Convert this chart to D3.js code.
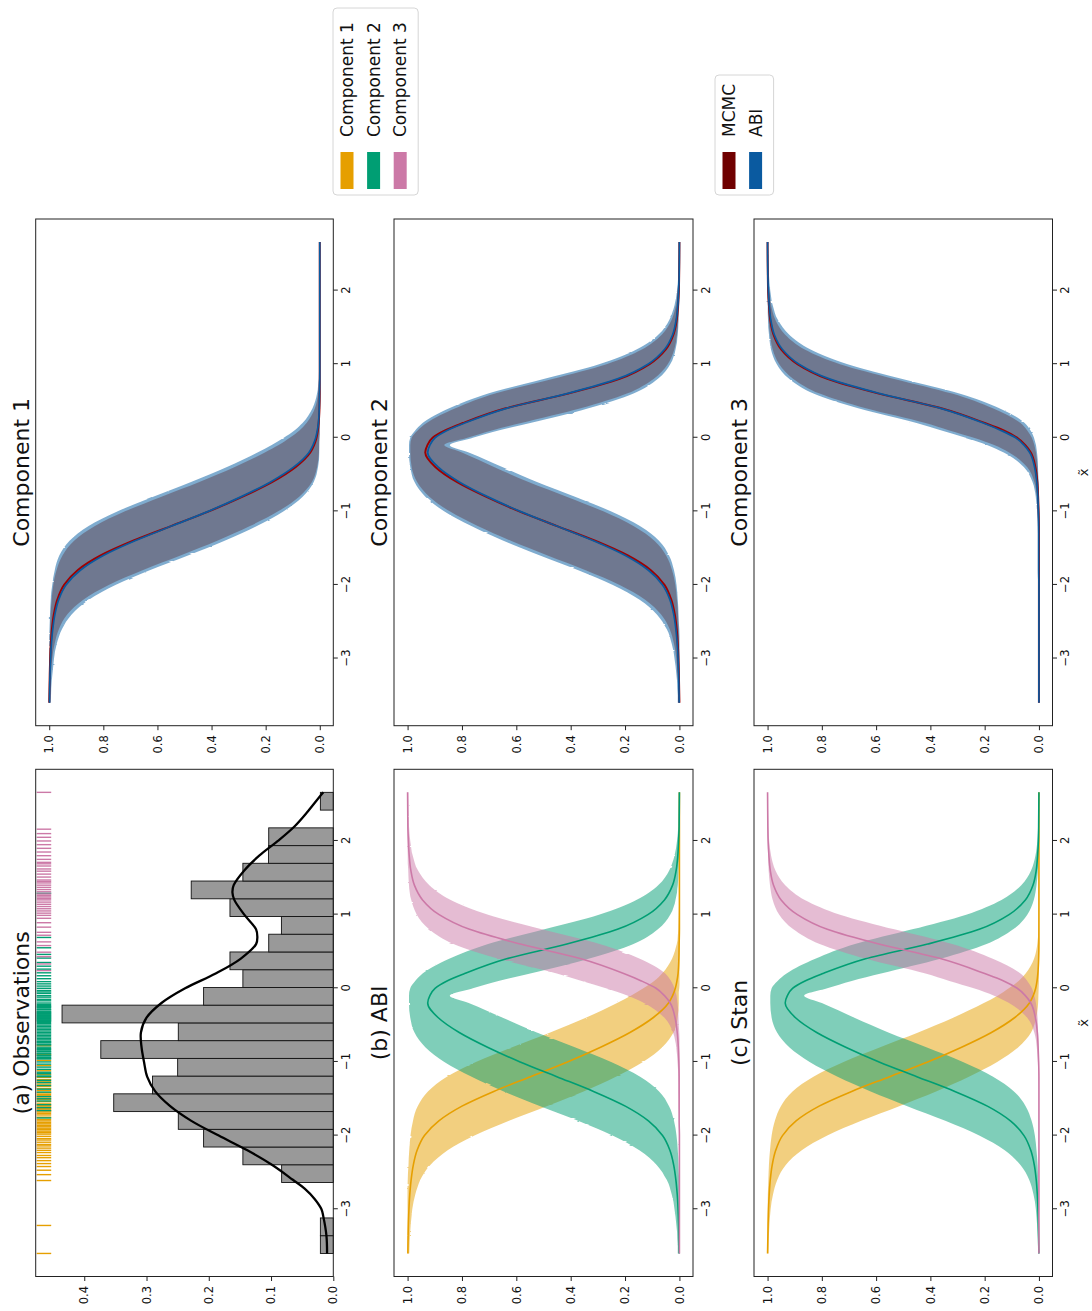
<!DOCTYPE html>
<html>
<head>
<meta charset="utf-8">
<script src="https://cdn.jsdelivr.net/npm/d3@7"></script>
<style>
  html, body { margin: 0; padding: 0; background: #fff; }
  svg { display: block; }
  text { font-family: "DejaVu Sans", sans-serif; }
</style>
</head>
<body>
<svg id="fig" width="1092" height="1311"></svg>
<script>
// ---------------- data ----------------
// observations, split by the component they belong to
const obsComp1 = [-3.60, -3.22, -2.61, -2.53, -2.47, -2.42, -2.38, -2.34, -2.30, -2.27, -2.23, -2.20, -2.17,
  -2.14, -2.12, -2.09, -2.06, -2.04, -2.01, -1.98, -1.96, -1.94, -1.92,
  -1.90, -1.88, -1.86, -1.84, -1.82, -1.80, -1.78, -1.75, -1.72, -1.70, -1.68,
  -1.665, -1.65, -1.63, -1.61, -1.59, -1.57, -1.54, -1.51, -1.49, -1.46, -1.44,
  -1.42, -1.39, -1.36, -1.33, -1.30, -1.27, -1.24, -1.21,
  -1.17, -1.12, -1.05, -0.98, -0.90, -0.78];
const obsComp2 = [-1.76, -1.66, -1.62, -1.58, -1.53, -1.50, -1.47,
  -1.41, -1.37, -1.32, -1.28, -1.25, -1.20,
  -1.19, -1.16, -1.14, -1.10, -1.07, -1.03, -1.00, -0.96,
  -0.95, -0.94, -0.92, -0.91, -0.89, -0.88, -0.86, -0.85, -0.83, -0.82, -0.80, -0.77, -0.76, -0.74, -0.73, -0.72,
  -0.70, -0.68, -0.66, -0.64, -0.62, -0.60, -0.58, -0.56, -0.54, -0.52, -0.50, -0.48,
  -0.465, -0.45, -0.44, -0.43, -0.42, -0.41, -0.40, -0.39, -0.38, -0.37, -0.36, -0.35, -0.34, -0.33, -0.32, -0.31, -0.29, -0.28, -0.26, -0.25, -0.235,
  -0.22, -0.20, -0.17, -0.15, -0.12, -0.10, -0.07, -0.05, -0.03, 0.00,
  0.03, 0.06, 0.09, 0.13, 0.17, 0.21,
  0.26, 0.30, 0.35, 0.41, 0.46, 0.55, 0.69, 1.29];
const obsComp3 = [0.24, 0.33, 0.43, 0.49, 0.58, 0.63, 0.72, 0.76, 0.83, 0.89, 0.95,
  0.99, 1.02, 1.05, 1.08, 1.11, 1.14, 1.17, 1.20,
  1.22, 1.24, 1.26, 1.28, 1.31, 1.34, 1.37, 1.40, 1.43, 1.45,
  1.47, 1.51, 1.55, 1.59, 1.62, 1.66, 1.69,
  1.71, 1.75, 1.80, 1.85, 1.90, 1.95, 2.00, 2.05, 2.10, 2.16, 2.66];

// histogram bin edges
const binEdges = [-3.600, -3.359, -3.118, -2.878, -2.637, -2.396, -2.155, -1.915, -1.674, -1.433, -1.192,
  -0.952, -0.711, -0.470, -0.229, 0.011, 0.252, 0.493, 0.734, 0.974, 1.215, 1.456, 1.697, 1.937, 2.178, 2.419, 2.660];

// kernel density estimate of the observations
const kdeX = [-3.6, -3.36, -3.1, -3.0, -2.86, -2.72, -2.6, -2.4, -2.2, -2.0, -1.8, -1.6, -1.4, -1.2, -1.0, -0.8,
  -0.6, -0.4, -0.2, 0, 0.2, 0.4, 0.6, 0.7, 0.8, 1.0, 1.2, 1.3, 1.4, 1.6, 1.8, 2.0, 2.2, 2.4, 2.6, 2.66];
const kdeY = [0.010, 0.011, 0.016, 0.019, 0.030, 0.046, 0.065, 0.098, 0.138, 0.184, 0.228, 0.262, 0.286, 0.299, 0.304, 0.308,
  0.309, 0.300, 0.276, 0.238, 0.189, 0.149, 0.124, 0.122, 0.124, 0.143, 0.159, 0.162, 0.160, 0.143, 0.119, 0.089, 0.062, 0.041, 0.022, 0.016];

// evaluation grid for the membership probabilities
const xGrid = [-3.6, -3.2, -2.8, -2.6, -2.4, -2.2, -2.0, -1.8, -1.6, -1.4, -1.2, -1.0, -0.8, -0.6, -0.4, -0.2, -0.1,
  0.0, 0.1, 0.2, 0.4, 0.6, 0.8, 1.0, 1.2, 1.4, 1.6, 1.8, 2.0, 2.2, 2.66];

// ABI: posterior mean and band of each component
const abiMean1 = [0.999, 0.997, 0.992, 0.987, 0.979, 0.965, 0.938, 0.885, 0.800, 0.683, 0.548, 0.412, 0.290, 0.182, 0.097, 0.040, 0.025, 0.015, 0.009, 0.005, 0.002, 0.001, 0, 0, 0, 0, 0, 0, 0, 0, 0];
const abiHi1   = [1.000, 1.000, 1.000, 0.999, 0.997, 0.994, 0.989, 0.980, 0.963, 0.925, 0.855, 0.748, 0.615, 0.475, 0.345, 0.230, 0.178, 0.133, 0.093, 0.064, 0.027, 0.010, 0.004, 0.002, 0.001, 0, 0, 0, 0, 0, 0];
const abiLo1   = [0.994, 0.988, 0.972, 0.953, 0.917, 0.853, 0.755, 0.628, 0.487, 0.352, 0.233, 0.134, 0.063, 0.022, 0.007, 0.002, 0.002, 0.001, 0, 0, 0, 0, 0, 0, 0, 0, 0, 0, 0, 0, 0];
const abiMean2 = [0.001, 0.003, 0.008, 0.013, 0.021, 0.035, 0.062, 0.114, 0.199, 0.316, 0.451, 0.586, 0.706, 0.810, 0.887, 0.926, 0.918, 0.899, 0.855, 0.790, 0.636, 0.414, 0.228, 0.116, 0.055, 0.025, 0.012, 0.006, 0.003, 0.001, 0.000];
const abiHi2   = [0.006, 0.012, 0.028, 0.047, 0.083, 0.147, 0.245, 0.372, 0.513, 0.647, 0.765, 0.865, 0.935, 0.975, 0.990, 0.995, 0.995, 0.990, 0.972, 0.945, 0.848, 0.705, 0.498, 0.295, 0.158, 0.078, 0.037, 0.018, 0.009, 0.004, 0.002];
const abiLo2   = [0, 0, 0, 0.001, 0.003, 0.006, 0.011, 0.020, 0.038, 0.075, 0.145, 0.252, 0.385, 0.525, 0.650, 0.775, 0.845, 0.760, 0.665, 0.550, 0.335, 0.170, 0.080, 0.034, 0.014, 0.006, 0.003, 0.001, 0, 0, 0];
const abiMean3 = [0, 0, 0, 0, 0, 0, 0, 0.001, 0.001, 0.001, 0.001, 0.002, 0.004, 0.008, 0.016, 0.034, 0.055, 0.086, 0.140, 0.205, 0.362, 0.585, 0.772, 0.884, 0.945, 0.975, 0.988, 0.994, 0.997, 0.999, 1.000];
const abiHi3   = [0, 0, 0, 0, 0, 0, 0.001, 0.001, 0.002, 0.003, 0.004, 0.007, 0.012, 0.024, 0.055, 0.130, 0.190, 0.270, 0.360, 0.450, 0.665, 0.830, 0.920, 0.966, 0.987, 0.995, 0.998, 0.999, 1.000, 1.000, 1.000];
const abiLo3   = [0, 0, 0, 0, 0, 0, 0, 0, 0, 0, 0, 0, 0, 0.001, 0.003, 0.007, 0.011, 0.018, 0.031, 0.052, 0.145, 0.292, 0.505, 0.705, 0.842, 0.920, 0.962, 0.981, 0.990, 0.995, 0.998];

// Stan (MCMC): posterior mean and band of each component
const stanMean1 = [1.000, 0.998, 0.994, 0.990, 0.983, 0.970, 0.945, 0.895, 0.810, 0.690, 0.550, 0.410, 0.285, 0.175, 0.090, 0.035, 0.021, 0.012, 0.007, 0.004, 0.001, 0, 0, 0, 0, 0, 0, 0, 0, 0, 0];
const stanHi1   = [1.000, 1.000, 0.999, 0.997, 0.995, 0.991, 0.985, 0.973, 0.951, 0.908, 0.831, 0.720, 0.585, 0.445, 0.316, 0.203, 0.152, 0.111, 0.075, 0.049, 0.018, 0.006, 0.002, 0.001, 0, 0, 0, 0, 0, 0, 0];
const stanLo1   = [0.997, 0.993, 0.980, 0.964, 0.933, 0.874, 0.780, 0.655, 0.515, 0.379, 0.258, 0.154, 0.076, 0.029, 0.010, 0.003, 0.002, 0.001, 0, 0, 0, 0, 0, 0, 0, 0, 0, 0, 0, 0, 0];
const stanMean2 = [0.000, 0.002, 0.006, 0.010, 0.017, 0.030, 0.055, 0.105, 0.190, 0.310, 0.450, 0.589, 0.712, 0.819, 0.897, 0.935, 0.927, 0.908, 0.862, 0.796, 0.639, 0.410, 0.220, 0.110, 0.050, 0.022, 0.010, 0.005, 0.002, 0.001, 0.000];
const stanHi2   = [0.003, 0.007, 0.020, 0.036, 0.068, 0.126, 0.220, 0.345, 0.485, 0.620, 0.742, 0.845, 0.920, 0.965, 0.985, 0.990, 0.990, 0.985, 0.963, 0.930, 0.824, 0.678, 0.467, 0.268, 0.138, 0.065, 0.029, 0.013, 0.006, 0.003, 0.001];
const stanLo2   = [0, 0, 0.001, 0.003, 0.005, 0.009, 0.015, 0.027, 0.049, 0.092, 0.169, 0.280, 0.415, 0.555, 0.680, 0.800, 0.865, 0.780, 0.690, 0.582, 0.363, 0.193, 0.095, 0.043, 0.019, 0.009, 0.004, 0.002, 0.001, 0, 0];
const stanMean3 = [0, 0, 0, 0, 0, 0, 0, 0, 0, 0, 0, 0.001, 0.003, 0.006, 0.013, 0.030, 0.050, 0.080, 0.130, 0.200, 0.360, 0.590, 0.780, 0.890, 0.950, 0.978, 0.990, 0.995, 0.998, 0.999, 1.000];
const stanHi3   = [0, 0, 0, 0, 0, 0, 0, 0, 0, 0, 0.002, 0.004, 0.008, 0.017, 0.043, 0.110, 0.165, 0.240, 0.330, 0.418, 0.638, 0.808, 0.905, 0.957, 0.981, 0.991, 0.996, 0.998, 0.999, 1.000, 1.000];
const stanLo3   = [0, 0, 0, 0, 0, 0, 0, 0, 0, 0, 0, 0, 0.001, 0.003, 0.005, 0.011, 0.017, 0.026, 0.043, 0.068, 0.170, 0.320, 0.533, 0.733, 0.863, 0.935, 0.971, 0.987, 0.994, 0.997, 0.999];

const componentNames = ["Component 1", "Component 2", "Component 3"];
const componentColors = ["#E69F00", "#009E73", "#CC79A7"];
const methodNames = ["MCMC", "ABI"];
const methodColors = ["#700000", "#0a5aa0"];
const xTicks = [-3, -2, -1, 0, 1, 2];
const probTicks = [0, 0.2, 0.4, 0.6, 0.8, 1.0];
const densTicks = [0, 0.1, 0.2, 0.3, 0.4];

// ---------------- layout ----------------
// The figure is laid out landscape (1311 x 1092) and turned a quarter turn
// counter-clockwise onto the portrait page.
const svg = d3.select("#fig");

// slight roughness on the edges of the sampled (ABI) bands
const defs = svg.append("defs");
const rough = defs.append("filter").attr("id", "rough")
  .attr("x", "-2%").attr("y", "-2%").attr("width", "104%").attr("height", "104%");
rough.append("feTurbulence").attr("type", "fractalNoise").attr("baseFrequency", "0.35 0.05")
  .attr("numOctaves", 1).attr("seed", 3).attr("result", "noise");
rough.append("feDisplacementMap").attr("in", "SourceGraphic").attr("in2", "noise")
  .attr("scale", 2.2).attr("xChannelSelector", "R").attr("yChannelSelector", "G");

const fig = svg.append("g").attr("transform", "translate(0,1311) rotate(-90)");

const colLeft = [34.5, 541.7], colRight = [585.3, 1092];
const rows = [[35.7, 333.3], [394, 693], [754, 1052.5]];
const xDomain = [-3.913, 2.973];
const FONT_TICK = 11.5, FONT_TITLE = 22, FONT_LEG = 17;

function panel(col, row, yDomain, yTicks, title) {
  const g = fig.append("g");
  const x = d3.scaleLinear().domain(xDomain).range(col);
  const y = d3.scaleLinear().domain(yDomain).range([row[1], row[0]]);
  const plot = g.append("g");
  const ax = g.append("g").attr("transform", `translate(0,${row[1]})`)
    .call(d3.axisBottom(x).tickValues(xTicks).tickSize(4.5).tickPadding(4).tickFormat(d3.format("d")));
  const ay = g.append("g").attr("transform", `translate(${col[0]},0)`)
    .call(d3.axisLeft(y).tickValues(yTicks).tickSize(4.5).tickPadding(5).tickFormat(d3.format(".1f")));
  [ax, ay].forEach(a => {
    a.select(".domain").remove();
    a.selectAll("line").attr("stroke", "#222").attr("stroke-width", 1);
    a.selectAll("text").attr("font-size", FONT_TICK).attr("font-family", "DejaVu Sans").attr("fill", "#111");
  });
  g.append("rect").attr("x", col[0]).attr("y", row[0])
    .attr("width", col[1] - col[0]).attr("height", row[1] - row[0])
    .attr("fill", "none").attr("stroke", "#222").attr("stroke-width", 1);
  g.append("text").attr("x", (col[0] + col[1]) / 2).attr("y", row[0] - 7)
    .attr("text-anchor", "middle").attr("font-size", FONT_TITLE).attr("fill", "#111").text(title);
  return { g, plot, x, y };
}

function xLabel(p, col, row) {
  p.g.append("text").attr("x", (col[0] + col[1]) / 2).attr("y", row[1] + 35)
    .attr("text-anchor", "middle").attr("font-size", 13).attr("fill", "#111").text("x\u0303");
}

const zipXY = (ys) => xGrid.map((xv, i) => [xv, ys[i]]);
const zipBand = (lo, hi) => xGrid.map((xv, i) => [xv, lo[i], hi[i]]);

function drawBand(p, lo, hi, color, opacity, roughEdge) {
  const area = d3.area().x(d => p.x(d[0])).y0(d => p.y(d[1])).y1(d => p.y(d[2])).curve(d3.curveMonotoneX);
  const path = p.plot.append("path").attr("d", area(zipBand(lo, hi)))
    .attr("fill", color).attr("fill-opacity", opacity).attr("stroke", "none");
  if (roughEdge) path.attr("filter", "url(#rough)");
}
function drawLine(p, ys, color, width) {
  const line = d3.line().x(d => p.x(d[0])).y(d => p.y(d[1])).curve(d3.curveMonotoneX);
  p.plot.append("path").attr("d", line(zipXY(ys))).attr("fill", "none").attr("stroke", color).attr("stroke-width", width);
}

// ---------------- (a) Observations ----------------
const pa = panel(colLeft, rows[0], [0, 0.478], densTicks, "(a) Observations");
const allObs = obsComp1.concat(obsComp2, obsComp3);
const bins = d3.bin().domain([binEdges[0], binEdges[binEdges.length - 1]])
  .thresholds(binEdges.slice(1, -1))(allObs);
const nObs = allObs.length;
const density = b => b.length / (nObs * (b.x1 - b.x0));
pa.plot.selectAll("rect.bar").data(bins.filter(b => b.length > 0)).join("rect")
  .attr("class", "bar")
  .attr("x", b => pa.x(b.x0)).attr("width", b => pa.x(b.x1) - pa.x(b.x0))
  .attr("y", b => pa.y(density(b)))
  .attr("height", b => pa.y(0) - pa.y(density(b)))
  .attr("fill", "#999999").attr("stroke", "#111").attr("stroke-width", 0.9);
pa.plot.append("path")
  .attr("d", d3.line().x(d => pa.x(d[0])).y(d => pa.y(d[1])).curve(d3.curveCatmullRom)(kdeX.map((v, i) => [v, kdeY[i]])))
  .attr("fill", "none").attr("stroke", "#000").attr("stroke-width", 2.3);
// rug along the top edge, coloured by component
[obsComp1, obsComp2, obsComp3].forEach((obs, k) => {
  pa.plot.selectAll(null).data(obs).join("line")
    .attr("x1", d => pa.x(d)).attr("x2", d => pa.x(d))
    .attr("y1", rows[0][0] + 1).attr("y2", rows[0][0] + 15.5)
    .attr("stroke", componentColors[k]).attr("stroke-width", 1.4);
});

// ---------------- (b) ABI and (c) Stan ----------------
const abiSets = [[abiMean1, abiLo1, abiHi1], [abiMean2, abiLo2, abiHi2], [abiMean3, abiLo3, abiHi3]];
const stanSets = [[stanMean1, stanLo1, stanHi1], [stanMean2, stanLo2, stanHi2], [stanMean3, stanLo3, stanHi3]];

function mixturePanel(row, title, sets, roughEdge) {
  const p = panel(colLeft, row, [-0.05, 1.05], probTicks, title);
  sets.forEach((s, k) => drawBand(p, s[1], s[2], componentColors[k], 0.5, roughEdge));
  sets.forEach((s, k) => drawLine(p, s[0], componentColors[k], 1.6));
  return p;
}
mixturePanel(rows[1], "(b) ABI", abiSets, true);
const pc = mixturePanel(rows[2], "(c) Stan", stanSets, false);
xLabel(pc, colLeft, rows[2]);

// ---------------- Component 1..3: MCMC vs ABI ----------------
let pLast;
componentNames.forEach((name, k) => {
  const p = panel(colRight, rows[k], [-0.05, 1.05], probTicks, name);
  drawBand(p, abiSets[k][1], abiSets[k][2], methodColors[1], 0.5, true);
  drawBand(p, stanSets[k][1], stanSets[k][2], "#4d0000", 0.3, false);
  drawLine(p, stanSets[k][0], "#a00000", 2);
  drawLine(p, abiSets[k][0], methodColors[1], 1.7);
  pLast = p;
});
xLabel(pLast, colRight, rows[2]);

// ---------------- legends ----------------
function legend(x0, y0, w, names, colors) {
  const rowH = 26.6, h = 14 + rowH * (names.length - 1) + 18;
  const g = fig.append("g");
  g.append("rect").attr("x", x0).attr("y", y0).attr("width", w).attr("height", h)
    .attr("rx", 4).attr("fill", "#fff").attr("stroke", "#d6d6d6").attr("stroke-width", 1);
  names.forEach((n, i) => {
    const cy = y0 + 14 + i * rowH;
    g.append("rect").attr("x", x0 + 6).attr("y", cy - 6.5).attr("width", 37).attr("height", 13)
      .attr("fill", colors[i]);
    g.append("text").attr("x", x0 + 58).attr("y", cy).attr("dy", "0.35em")
      .attr("font-size", FONT_LEG).attr("fill", "#111").text(n);
  });
}
legend(1116, 333, 187, componentNames, componentColors);
legend(1116, 715, 120, methodNames, methodColors);
</script>
</body>
</html>
